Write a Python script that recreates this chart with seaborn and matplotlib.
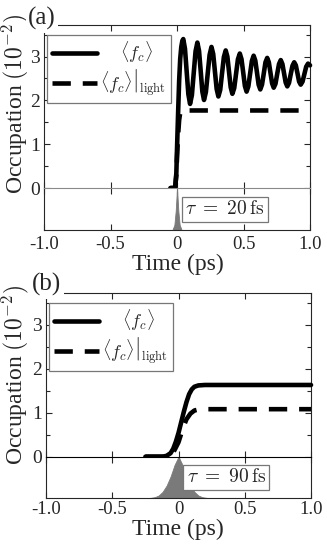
import numpy as np
import pandas as pd
import seaborn as sns
import matplotlib
matplotlib.use("Agg")
import matplotlib.pyplot as plt
from matplotlib.ticker import MultipleLocator, FixedLocator, FixedFormatter

# ---------------- data ----------------
# panel (a): total occupation <f_c>
a_solid_t = [-0.05, -0.02, -0.012, -0.005, 0.0, 0.008, 0.016, 0.024, 0.032, 0.040, 0.047,
             0.0598, 0.0725, 0.0853, 0.098,
             0.1118, 0.1255, 0.1393, 0.153,
             0.1655, 0.178, 0.1905, 0.203,
             0.217, 0.231, 0.245, 0.259,
             0.272, 0.285, 0.298, 0.311,
             0.3248, 0.3385, 0.3523, 0.366,
             0.3785, 0.391, 0.4035, 0.416,
             0.430, 0.444, 0.458, 0.472,
             0.4848, 0.4975, 0.5103, 0.523,
             0.5363, 0.5495, 0.5628, 0.576,
             0.5885, 0.601, 0.6135, 0.626,
             0.639, 0.652, 0.665, 0.678,
             0.6903, 0.7025, 0.7148, 0.727,
             0.7403, 0.7535, 0.7668, 0.780,
             0.7923, 0.8045, 0.8168, 0.829,
             0.842, 0.855, 0.868, 0.881,
             0.8933, 0.9055, 0.9178, 0.930,
             0.9438, 0.9575, 0.9713, 0.985, 1.0]
a_solid_y = [0.0, 0.0, 0.05, 0.35, 0.9, 1.7, 2.45, 2.95, 3.22, 3.36, 3.40,
             3.18, 2.66, 2.14, 1.92,
             2.12, 2.62, 3.12, 3.32,
             3.13, 2.67, 2.20, 2.01,
             2.19, 2.62, 3.04, 3.22,
             3.06, 2.66, 2.26, 2.09,
             2.24, 2.62, 2.99, 3.14,
             3.00, 2.65, 2.30, 2.15,
             2.28, 2.61, 2.94, 3.07,
             2.94, 2.64, 2.33, 2.20,
             2.32, 2.61, 2.90, 3.02,
             2.91, 2.64, 2.36, 2.25,
             2.36, 2.61, 2.87, 2.97,
             2.87, 2.63, 2.39, 2.29,
             2.38, 2.61, 2.83, 2.92,
             2.83, 2.62, 2.41, 2.32,
             2.40, 2.60, 2.79, 2.87,
             2.80, 2.62, 2.43, 2.36,
             2.43, 2.60, 2.77, 2.84, 2.80]
# panel (a): light-induced part <f_c>|light
a_dash_t = [-0.05, -0.015, -0.005, 0.0, 0.008, 0.016, 0.024, 0.035, 1.0]
a_dash_y = [0.0, 0.0, 0.3, 0.7, 1.2, 1.55, 1.72, 1.77, 1.77]
# panel (a): pump pulse (normalised)
a_pulse_t = [-0.035, -0.02, -0.01, 0.0, 0.01, 0.02, 0.035]
a_pulse_h = [0.0, 0.12, 0.45, 1.0, 0.45, 0.12, 0.0]

# panel (b)
b_solid_t = [-0.25, -0.12, -0.09, -0.06, -0.04, -0.02, 0.0, 0.02, 0.04, 0.06, 0.08,
             0.10, 0.12, 0.15, 0.20, 1.0]
b_solid_y = [0.0, 0.0, 0.02, 0.08, 0.18, 0.34, 0.54, 0.78, 1.02, 1.24, 1.42,
             1.53, 1.59, 1.62, 1.63, 1.63]
b_dash_t = [-0.25, -0.10, -0.06, -0.03, 0.0, 0.02, 0.04, 0.06, 0.09, 0.12, 0.16, 1.0]
b_dash_y = [0.0, 0.0, 0.05, 0.15, 0.33, 0.52, 0.70, 0.85, 0.98, 1.05, 1.08, 1.08]
b_pulse_t = [-0.22, -0.18, -0.15, -0.12, -0.09, -0.06, -0.03, 0.0,
             0.03, 0.06, 0.09, 0.12, 0.15, 0.18, 0.22]
b_pulse_h = [0.0, 0.02, 0.06, 0.15, 0.30, 0.52, 0.80, 1.0,
             0.80, 0.52, 0.30, 0.15, 0.06, 0.02, 0.0]

x_ticks = [-1.0, -0.5, 0.0, 0.5, 1.0]
x_ticklabels = ["-1.0", "-0.5", "0", "0.5", "1.0"]
y_ticks = [0, 1, 2, 3]
y_ticklabels = ["0", "1", "2", "3"]
panel_labels = ["(a)", "(b)"]
tau_labels = [r"$\tau\ =\ 20\,\mathrm{fs}$", r"$\tau\ =\ 90\,\mathrm{fs}$"]
legend_labels = [r"$\quad\;\langle f_c\rangle$",
                 r"$\left.\langle f_c\rangle\right|_{\mathrm{light}}$"]
xlabel = "Time (ps)"
ylabel = r"Occupation $(10^{-2})$"

# ---------------- style ----------------
sns.set_theme(style="ticks")
plt.rcParams["font.family"] = ["Liberation Serif", "DejaVu Serif"]
plt.rcParams["mathtext.fontset"] = "cm"
plt.rcParams["axes.linewidth"] = 0.8

fig = plt.figure(figsize=(3.27, 5.48), dpi=100)

LW = 3.3
DASH = (4.0, 2.6)

panels = [
    dict(top=[0.1346, 0.6569, 0.8135, 0.2974], bot=[0.1346, 0.5803, 0.8135, 0.0766],
         st=a_solid_t, sy=a_solid_y, dt=a_dash_t, dy=a_dash_y, pt=a_pulse_t, ph=a_pulse_h,
         zcol="#8a8a8a", lab_xy=(28, 25), ylab_y=104, xlab_y=269.5, tpad=4),
    dict(top=[0.1407, 0.1666, 0.8104, 0.2987], bot=[0.1407, 0.0912, 0.8104, 0.0754],
         st=b_solid_t, sy=b_solid_y, dt=b_dash_t, dy=b_dash_y, pt=b_pulse_t, ph=b_pulse_h,
         zcol="black", lab_xy=(32, 291), ylab_y=375, xlab_y=535, tpad=2.5),
]

W, H = 327.0, 548.0
for i, p in enumerate(panels):
    ax = fig.add_axes(p["top"])
    axb = fig.add_axes(p["bot"], sharex=ax)

    df_s = pd.DataFrame({"t": p["st"], "v": p["sy"]})
    df_d = pd.DataFrame({"t": p["dt"], "v": p["dy"]})
    sns.lineplot(data=df_s, x="t", y="v", ax=ax, color="black", lw=LW, sort=False,
                 estimator=None, label=legend_labels[0], clip_on=False, zorder=3)
    sns.lineplot(data=df_d, x="t", y="v", ax=ax, color="black", lw=LW, sort=False,
                 estimator=None, label=legend_labels[1], clip_on=False, zorder=3)
    ax.lines[-1].set_dashes(DASH)
    ax.lines[-1].set_dash_capstyle("butt")

    ax.set_xlim(-1.0, 1.0)
    ax.set_ylim(0, 3.72)
    ax.set_xlabel("")
    ax.set_ylabel("")
    ax.yaxis.set_major_locator(FixedLocator(y_ticks))
    ax.yaxis.set_major_formatter(FixedFormatter(y_ticklabels))
    ax.yaxis.set_minor_locator(MultipleLocator(0.5))
    ax.xaxis.set_major_locator(FixedLocator(x_ticks))
    ax.tick_params(axis="both", which="both", direction="in", top=True, right=True,
                   bottom=True, left=True, labelbottom=False, length=4, width=0.8,
                   labelsize=14, pad=3)
    ax.tick_params(axis="y", which="minor", length=3)
    ax.spines["bottom"].set_visible(False)

    leg = ax.legend(loc="upper left", bbox_to_anchor=(0.012, 0.94), fontsize=13,
                    frameon=True, fancybox=False, edgecolor="#777777", framealpha=1,
                    handlelength=2.5, handletextpad=0.15, labelspacing=0.08,
                    borderpad=0.28, borderaxespad=0.0)
    leg.get_frame().set_linewidth(0.9)

    # pulse panel
    axb.fill_between(p["pt"], 0, p["ph"], color="#7a7a7a", lw=0.6, edgecolor="#7a7a7a")
    axb.set_ylim(0, 1.0)
    axb.set_yticks([])
    axb.xaxis.set_major_locator(FixedLocator(x_ticks))
    axb.xaxis.set_major_formatter(FixedFormatter(x_ticklabels))
    axb.tick_params(axis="x", direction="in", top=True, bottom=True, length=4, width=0.8,
                    labelsize=13.5, pad=p["tpad"])
    axb.spines["top"].set_color(p["zcol"])
    axb.set_xlabel("")
    axb.text(0.062, 0.5, tau_labels[i], fontsize=14, ha="left", va="center",
             transform=axb.get_xaxis_transform(),
             bbox=dict(boxstyle="square,pad=0.18", facecolor="white", edgecolor="#777777", lw=0.9),
             zorder=5)

    fig.text(p["lab_xy"][0] / W, 1 - p["lab_xy"][1] / H, panel_labels[i], fontsize=18,
             ha="left", va="baseline", transform=fig.transFigure,
             bbox=dict(boxstyle="square,pad=0.1", facecolor="white", edgecolor="none"),
             zorder=10)
    fig.text(15 / W, 1 - p["ylab_y"] / H, ylabel, rotation=90, fontsize=17,
             ha="center", va="center")
    fig.text(178 / W, 1 - p["xlab_y"] / H, xlabel, fontsize=17, ha="center",
             va="baseline")

fig.savefig("out.png", dpi=100)
